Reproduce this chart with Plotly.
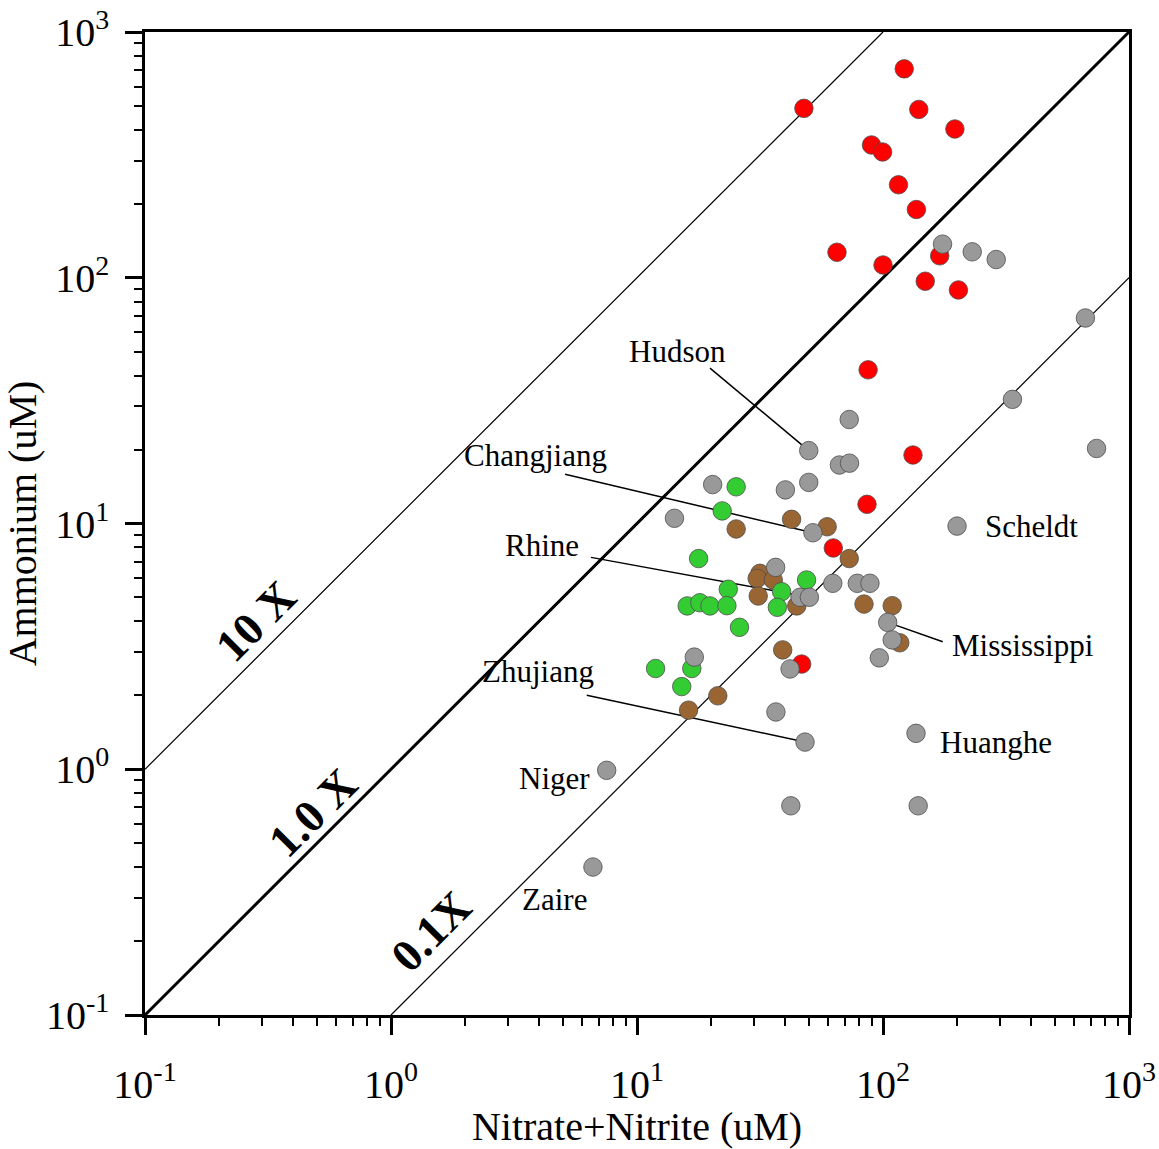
import numpy as np
import plotly.graph_objects as go

# ---------------- data (Nitrate+Nitrite, Ammonium) in uM ----------------
red_x = [122, 47.7, 139.8, 196, 89.8, 99.6, 115.6, 136.7, 65, 100, 170, 148.5, 202.6,
         87, 132.4, 86.1, 62.8, 46.7]
red_y = [708, 489, 484, 403, 347, 325, 239, 189.5, 127, 112.7, 122.8, 96.8, 89.2,
         42.2, 19.0, 11.97, 7.95, 2.68]

brown_x = [42.5, 25.3, 59.3, 72.9, 31.6, 30.8, 35.8, 31.1, 44.6, 83.7, 109, 117, 39.1, 21.3, 16.2]
brown_y = [10.4, 9.5, 9.7, 7.2, 6.27, 5.98, 5.89, 5.07, 4.62, 4.70, 4.63, 3.27, 3.06, 1.99, 1.74]

green_x = [25.3, 22.2, 17.8, 48.9, 23.5, 38.7, 37.2, 16.0, 18.0, 19.8, 23.2, 26.1, 16.7, 11.9, 15.2]
green_y = [14.1, 11.25, 7.2, 5.89, 5.40, 5.28, 4.56, 4.62, 4.76, 4.62, 4.63, 3.78, 2.57, 2.57, 2.17]

gray_x = [174.6, 230.5, 288.5, 665, 336, 72.9, 49.9, 738, 66.5, 73.1, 20.3, 40.1, 49.9, 14.2,
          51.9, 200, 36.6, 62.5, 78.6, 88.5, 46, 50.2, 104.5, 109, 96.6, 41.9, 17.1, 36.7,
          48.2, 136.2, 7.53, 42.2, 139, 6.62]
gray_y = [137, 127.5, 118.6, 68.6, 32, 26.5, 19.8, 20.2, 17.3, 17.6, 14.4, 13.7, 14.7, 10.5,
          9.17, 9.76, 6.63, 5.71, 5.71, 5.71, 5.01, 5.01, 3.96, 3.36, 2.84, 2.56, 2.86, 1.71,
          1.29, 1.40, 0.99, 0.71, 0.71, 0.40]

# ratio lines (Ammonium = factor * Nitrate)
ratio_factors = [10, 1.0, 0.1]
ratio_labels = ["10 X", "1.0 X", "0.1X"]
ratio_label_x = [0.28, 0.482, 1.455]
ratio_label_y = [4.01, 0.664, 0.218]

# river labels: text, label position, anchor, leader start, leader end (river point)
river_names = ["Hudson", "Changjiang", "Rhine", "Zhujiang", "Mississippi", "Scheldt", "Huanghe", "Niger", "Zaire"]
river_label_x = [14.55, 3.88, 4.11, 3.96, 187, 255, 167.4, 4.60, 4.64]
river_label_y = [50.3, 19.0, 8.10, 2.49, 3.2, 9.68, 1.29, 0.92, 0.294]
river_anchor = ["center", "center", "center", "center", "left", "left", "left", "center", "center"]
leader_start = [(19.8, 42.9), (5.10, 15.85), (6.50, 7.28), (6.25, 2.0), (175, 3.30)]
leader_end = [(49.9, 19.8), (51.9, 9.17), (50.2, 5.01), (48.2, 1.29), (104.5, 3.96)]

tick_vals = [0.1, 1, 10, 100, 1000]
tick_text = ["10<sup>-1</sup>", "10<sup>0</sup>", "10<sup>1</sup>", "10<sup>2</sup>", "10<sup>3</sup>"]
minor_vals = [m * 10.0 ** e for e in range(-1, 3) for m in range(2, 10)]

FONT = "Liberation Serif, Times New Roman, serif"

fig = go.Figure()

# ratio lines, clipped to the 0.1..1000 box
xmin, xmax, ymin, ymax = 0.1, 1000, 0.1, 1000
for f in ratio_factors:
    x0 = max(xmin, ymin / f)
    x1 = min(xmax, ymax / f)
    fig.add_trace(go.Scatter(
        x=[x0, x1], y=[x0 * f, x1 * f], mode="lines",
        line=dict(color="black", width=3 if f == 1.0 else 1.2),
        hoverinfo="skip", showlegend=False))

# leader lines
for (sx, sy), (ex, ey) in zip(leader_start, leader_end):
    fig.add_trace(go.Scatter(x=[sx, ex], y=[sy, ey], mode="lines",
                             line=dict(color="black", width=1.5),
                             hoverinfo="skip", showlegend=False))

marker_line = dict(color="#4d4d4d", width=0.8)
for xs, ys, col, name in [(red_x, red_y, "#FF0000", "red"),
                          (brown_x, brown_y, "#996633", "brown"),
                          (green_x, green_y, "#33CC33", "green"),
                          (gray_x, gray_y, "#999999", "gray")]:
    fig.add_trace(go.Scatter(x=xs, y=ys, mode="markers", name=name,
                             marker=dict(size=18.5, color=col, line=marker_line),
                             showlegend=False))

annotations = []
for t, lx, ly in zip(ratio_labels, ratio_label_x, ratio_label_y):
    annotations.append(dict(x=np.log10(lx), y=np.log10(ly), xref="x", yref="y",
                            text="<b>" + t + "</b>", showarrow=False, textangle=-45,
                            font=dict(family=FONT, size=46, color="black")))
for t, lx, ly, anc in zip(river_names, river_label_x, river_label_y, river_anchor):
    annotations.append(dict(x=np.log10(lx), y=np.log10(ly), xref="x", yref="y",
                            text=t, showarrow=False, xanchor=anc, yanchor="middle",
                            font=dict(family=FONT, size=31, color="black")))

axis_common = dict(
    type="log", range=[-1, 3], showgrid=False, zeroline=False, automargin=False,
    showline=True, linecolor="black", linewidth=2.5, mirror=True,
    ticks="outside", ticklen=17, tickwidth=2.5, tickcolor="black",
    tickmode="array", tickvals=tick_vals, ticktext=tick_text,
    tickfont=dict(family=FONT, size=40, color="black"),
    minor=dict(ticks="outside", ticklen=8, tickwidth=2, tickcolor="black",
               tickmode="array", tickvals=minor_vals, showgrid=False),
)

fig.update_layout(
    width=1159, height=1149,
    margin=dict(l=145, r=30, t=32, b=134),
    paper_bgcolor="white", plot_bgcolor="white",
    xaxis=dict(**axis_common, ticklabelstandoff=15,
               title=dict(text="Nitrate+Nitrite (uM)", standoff=3,
                          font=dict(family=FONT, size=40, color="black"))),
    yaxis=dict(**axis_common, ticklabelstandoff=8,
               title=dict(text="Ammonium (uM)", standoff=2,
                          font=dict(family=FONT, size=40, color="black"))),
    annotations=annotations,
)

fig.write_html("out.html", config={"displayModeBar": False},
               post_script="document.body.style.margin='0px';")
